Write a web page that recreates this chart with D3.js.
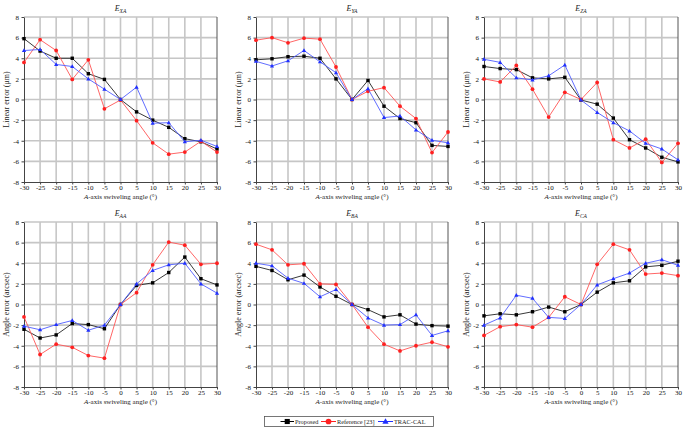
<!DOCTYPE html>
<html lang="en">
<head>
<meta charset="utf-8">
<title>Swiveling angle errors</title>
<script src="https://cdnjs.cloudflare.com/ajax/libs/d3/7.8.5/d3.min.js"></script>
<style>
  body { margin: 0; background: #fff; }
  svg { display: block; font-family: "Liberation Serif", "Times New Roman", serif; }
</style>
</head>
<body>
<div id="chart"></div>
<script>
// chart data
var angles = [-30, -25, -20, -15, -10, -5, 0, 5, 10, 15, 20, 25, 30];
var yTicks = [-8, -6, -4, -2, 0, 2, 4, 6, 8];
var seriesNames = ["Proposed", "Reference [23]", "TRAC-CAL"];
var panelTitles = ["XA", "YA", "ZA", "AA", "BA", "CA"];
var yLabels = ["Linear error (\u03bcm)", "Linear error (\u03bcm)", "Linear error (\u03bcm)",
               "Angle error (arcsec)", "Angle error (arcsec)", "Angle error (arcsec)"];

var proposedXA = [5.9, 4.7, 4.0, 4.0, 2.5, 1.95, 0, -1.2, -2.0, -2.7, -3.8, -4.1, -4.8];
var referenceXA = [3.6, 5.8, 4.75, 1.95, 3.85, -0.9, -0.05, -2.05, -4.2, -5.3, -5.1, -4.05, -5.1];
var tracXA = [4.75, 4.85, 3.4, 3.2, 2.0, 1.0, 0, 1.2, -2.3, -2.25, -4.1, -3.95, -4.55];

var proposedYA = [3.85, 3.95, 4.15, 4.2, 4.0, 2.0, 0, 1.85, -0.65, -1.85, -2.25, -4.45, -4.55];
var referenceYA = [5.75, 6.0, 5.5, 5.95, 5.85, 3.15, 0, 0.8, 1.15, -0.65, -1.85, -5.15, -3.15];
var tracYA = [3.7, 3.25, 3.75, 4.75, 3.65, 2.6, 0, 1.05, -1.75, -1.6, -2.95, -3.95, -4.2];

var proposedZA = [3.2, 3.0, 2.9, 2.1, 2.0, 2.15, -0.05, -0.45, -1.8, -3.9, -4.7, -5.6, -6.05];
var referenceZA = [2.0, 1.7, 3.3, 1.0, -1.7, 0.7, 0, 1.65, -3.9, -4.7, -3.85, -6.1, -4.25];
var tracZA = [3.9, 3.6, 2.1, 1.9, 2.3, 3.35, -0.05, -1.25, -2.25, -3.05, -4.25, -4.8, -5.85];

var proposedAA = [-2.4, -3.25, -2.95, -1.85, -1.95, -2.35, 0, 1.85, 2.1, 3.1, 4.6, 2.5, 1.9];
var referenceAA = [-1.2, -4.85, -3.85, -4.15, -4.95, -5.2, 0, 1.15, 3.85, 6.05, 5.75, 3.9, 4.0];
var tracAA = [-2.1, -2.45, -1.95, -1.55, -2.5, -2.0, 0, 2.0, 3.3, 3.85, 4.0, 2.0, 1.1];

var proposedBA = [3.7, 3.3, 2.4, 2.85, 1.7, 0.8, 0, -0.5, -1.2, -1.0, -1.9, -2.05, -2.1];
var referenceBA = [5.85, 5.3, 3.85, 3.95, 2.0, 1.95, 0, -2.2, -3.85, -4.5, -4.0, -3.65, -4.1];
var tracBA = [4.0, 3.75, 2.55, 2.05, 0.75, 1.45, 0, -1.3, -2.0, -1.95, -1.0, -3.0, -2.55];

var proposedCA = [-1.1, -0.9, -1.0, -0.7, -0.25, -0.7, 0, 1.2, 2.1, 2.3, 3.65, 3.8, 4.2];
var referenceCA = [-3.0, -2.15, -1.95, -2.2, -1.25, 0.75, 0, 3.9, 5.85, 5.3, 2.95, 3.05, 2.8];
var tracCA = [-2.0, -1.3, 0.9, 0.6, -1.25, -1.35, 0, 1.9, 2.5, 3.05, 4.0, 4.35, 3.8];

var panelData = [
  [proposedXA, referenceXA, tracXA],
  [proposedYA, referenceYA, tracYA],
  [proposedZA, referenceZA, tracZA],
  [proposedAA, referenceAA, tracAA],
  [proposedBA, referenceBA, tracBA],
  [proposedCA, referenceCA, tracCA]
];

var width = 685, height = 429;
var colors = ["#000000", "#ff2020", "#2030ff"];
var lineColors = ["#222222", "#ff5555", "#4f5cff"];
var colLeft = [24, 256, 484], colRight = [217, 448, 678];
var rowTop = [17, 222], rowBottom = [182, 387];

var svg = d3.select("#chart").append("svg")
  .attr("width", width).attr("height", height);

function drawMarker(g, i, x, y) {
  if (i == 0) {
    g.append("rect").attr("x", x - 1.7).attr("y", y - 1.7).attr("width", 3.4).attr("height", 3.4).attr("fill", colors[0]);
  } else if (i == 1) {
    g.append("circle").attr("cx", x).attr("cy", y).attr("r", 1.9).attr("fill", colors[1]);
  } else {
    g.append("path").attr("d", "M" + x + "," + (y - 2.2) + "L" + (x + 2.1) + "," + (y + 1.5) + "L" + (x - 2.1) + "," + (y + 1.5) + "Z").attr("fill", colors[2]);
  }
}

panelData.forEach(function(series, p) {
  var col = p % 3, row = Math.floor(p / 3);
  var x = d3.scaleLinear().domain([-30, 30]).range([colLeft[col], colRight[col]]);
  var y = d3.scaleLinear().domain([-8, 8]).range([rowBottom[row], rowTop[row]]);
  var g = svg.append("g");

  // grid
  g.selectAll("line.vg").data(angles.slice(1, -1)).enter().append("line").attr("class", "vg")
    .attr("x1", function(d) { return x(d); }).attr("x2", function(d) { return x(d); })
    .attr("y1", y(8)).attr("y2", y(-8))
    .attr("stroke", "#c6c6c6").attr("stroke-width", 1.6);
  g.selectAll("line.hg").data(yTicks.slice(1)).enter().append("line").attr("class", "hg")
    .attr("y1", function(d) { return y(d); }).attr("y2", function(d) { return y(d); })
    .attr("x1", x(-30)).attr("x2", x(30))
    .attr("stroke", "#c6c6c6").attr("stroke-width", 1.6);

  // right border
  g.append("line").attr("x1", x(30)).attr("x2", x(30)).attr("y1", y(8)).attr("y2", y(-8))
    .attr("stroke", "#555").attr("stroke-width", 1);

  var fmt = function(d) { return String(d); };
  var xAxis = g.append("g").attr("transform", "translate(0," + y(-8) + ")")
    .call(d3.axisBottom(x).tickValues(angles).tickFormat(fmt).tickSize(2.5).tickSizeOuter(0));
  var yAxis = g.append("g").attr("transform", "translate(" + x(-30) + ",0)")
    .call(d3.axisLeft(y).tickValues(yTicks).tickFormat(fmt).tickSize(2.5).tickSizeOuter(0).tickPadding(2.5));
  [xAxis, yAxis].forEach(function(a) {
    a.select(".domain").attr("stroke", "#444");
    a.selectAll(".tick line").attr("stroke", "#444");
    a.selectAll("text").attr("font-family", "Liberation Serif").attr("font-size", 7).attr("fill", "#111");
  });
  xAxis.selectAll("text").attr("y", 8).attr("dy", 0);

  // series
  series.forEach(function(vals, i) {
    var pts = angles.map(function(a, k) { return [x(a), y(vals[k])]; });
    g.append("path").attr("d", d3.line()(pts)).attr("fill", "none")
      .attr("stroke", lineColors[i]).attr("stroke-width", 0.9);
    pts.forEach(function(pt) { drawMarker(g, i, pt[0], pt[1]); });
  });

  // title
  var t = g.append("text").attr("x", (x(-30) + x(30)) / 2).attr("y", rowTop[row] - 6)
    .attr("text-anchor", "middle").attr("font-size", 8).attr("fill", "#222");
  t.append("tspan").attr("font-style", "italic").text("E");
  t.append("tspan").attr("font-style", "italic").attr("font-size", 5.5).attr("dy", 2).text(panelTitles[p]);

  // x label
  var xl = g.append("text").attr("x", (x(-30) + x(30)) / 2).attr("y", rowBottom[row] + 16.5)
    .attr("text-anchor", "middle").attr("font-size", 7).attr("fill", "#222");
  xl.append("tspan").attr("font-style", "italic").text("A");
  xl.append("tspan").text("-axis swiveling angle (\u00b0)");

  // y label
  g.append("text").attr("transform", "translate(" + (x(-30) - 15) + "," + ((rowTop[row] + rowBottom[row]) / 2) + ") rotate(-90)")
    .attr("text-anchor", "middle").attr("font-size", 8).attr("fill", "#222").text(yLabels[p]);
});

// legend
var lg = svg.append("g");
lg.append("rect").attr("x", 264.5).attr("y", 416.5).attr("width", 169).attr("height", 10)
  .attr("fill", "#fff").attr("stroke", "#555").attr("stroke-width", 0.8);
var legendX = [280.5, 321, 378];
var legendLen = [13.5, 15, 15];
seriesNames.forEach(function(name, i) {
  var lx = legendX[i], cx = lx + legendLen[i] / 2;
  lg.append("line").attr("x1", lx).attr("x2", lx + legendLen[i]).attr("y1", 421.5).attr("y2", 421.5)
    .attr("stroke", colors[i]).attr("stroke-width", 1);
  var mg = lg.append("g").attr("transform", "translate(" + cx + ",421.5) scale(1.5) translate(" + (-cx) + ",-421.5)");
  drawMarker(mg, i, cx, 421.5);
  lg.append("text").attr("x", lx + legendLen[i] + 1).attr("y", 424).attr("font-size", 6.3).attr("fill", "#222").text(name);
});
</script>
</body>
</html>
